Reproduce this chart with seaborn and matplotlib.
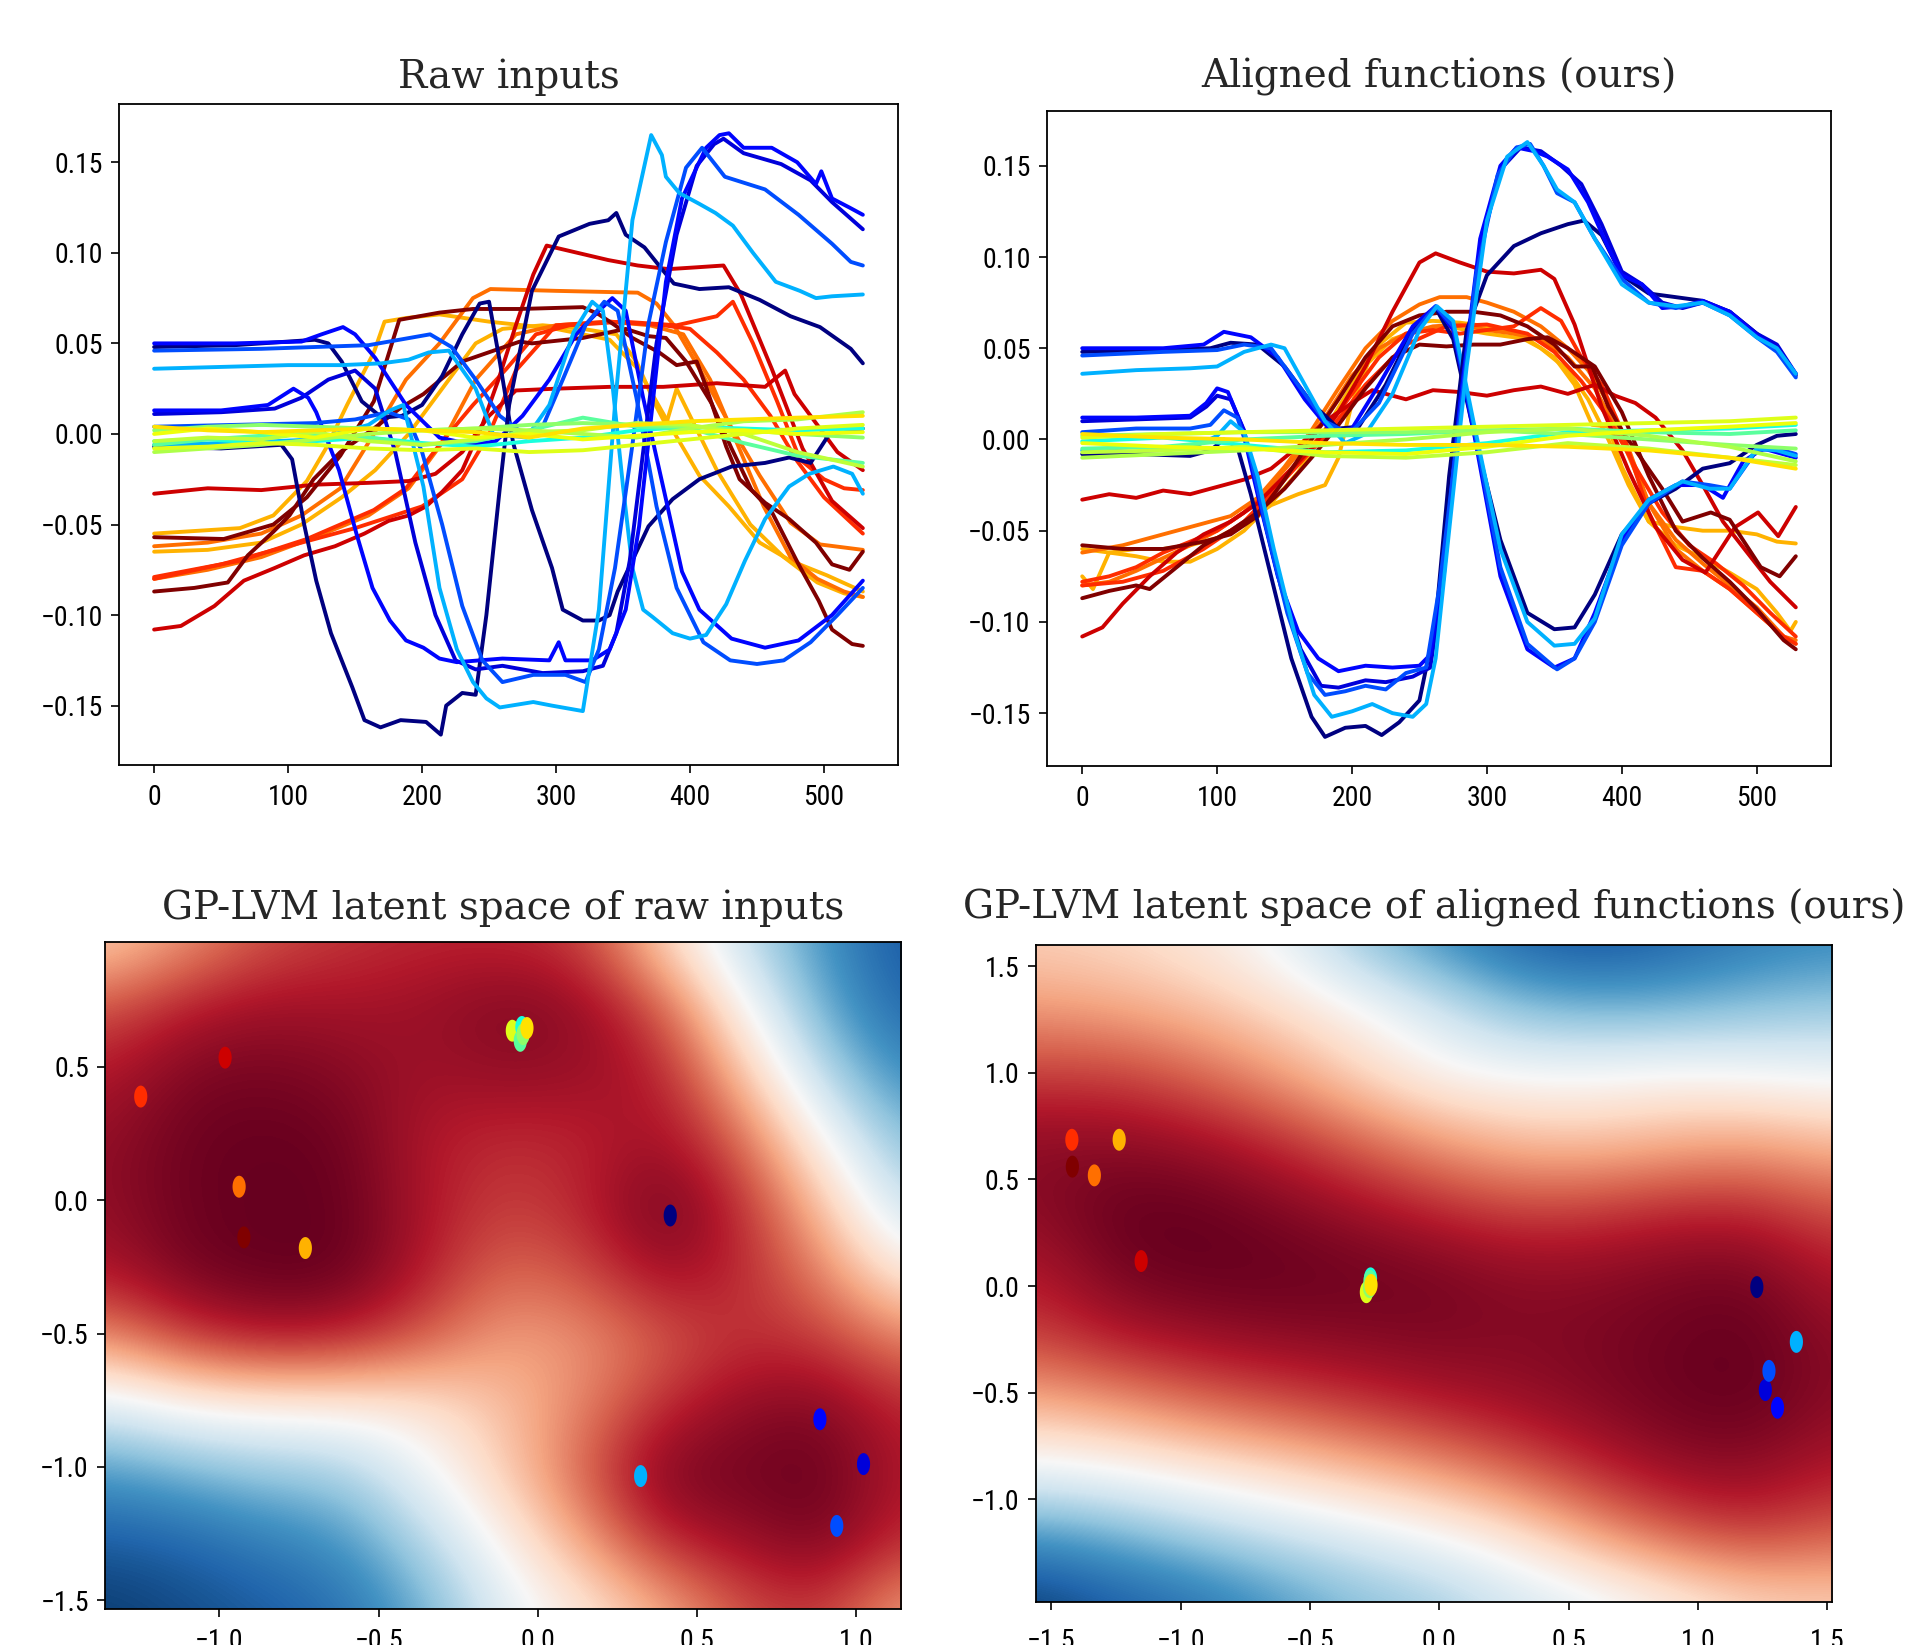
import numpy as np
import pandas as pd
import matplotlib
matplotlib.use("Agg")
import matplotlib.pyplot as plt
import seaborn as sns
from matplotlib import font_manager as fm
from matplotlib.font_manager import FontProperties
from matplotlib.markers import MarkerStyle

# ---------------------------------------------------------------- data
# colour of every sample = position on the jet colormap
C_NAVY, C_DKBLUE, C_BLUE, C_MEDBLUE, C_LIGHT = 0.0, 0.08, 0.13, 0.20, 0.30
C_CYAN, C_AQUA, C_GREEN, C_LGREEN, C_LGREEN2, C_YGREEN, C_YELLOW2, C_YELLOW = 0.38, 0.46, 0.52, 0.56, 0.58, 0.62, 0.64, 0.67
C_OY, C_ORANGE, C_ORED, C_RED, C_MAROON = 0.72, 0.79, 0.86, 0.93, 1.0

# ---------- Raw inputs (top left)
r_g1_navy_x = [0, 60, 100, 120, 130, 140, 155, 170, 185, 200, 215, 230, 243, 250, 258, 268, 282, 297, 305, 320, 332, 340, 346, 369, 387, 407, 431, 456, 474, 490, 504, 529]
r_g1_navy_y = [0.048, 0.049, 0.051, 0.052, 0.050, 0.040, 0.018, 0.009, 0.010, 0.016, 0.032, 0.055, 0.072, 0.073, 0.040, -0.005, -0.042, -0.074, -0.097, -0.103, -0.103, -0.100, -0.087, -0.051, -0.036, -0.025, -0.018, -0.016, -0.013, -0.016, 0.000, 0.003]
r_g1_blue_x = [0, 60, 110, 125, 141, 150, 165, 188, 213, 238, 255, 275, 295, 315, 332, 342, 352, 365, 382, 394, 407, 419, 431, 456, 481, 506, 529]
r_g1_blue_y = [0.050, 0.050, 0.051, 0.055, 0.059, 0.055, 0.042, 0.016, -0.002, -0.006, -0.004, 0.010, 0.030, 0.055, 0.068, 0.075, 0.068, 0.020, -0.036, -0.076, -0.097, -0.105, -0.113, -0.118, -0.114, -0.100, -0.081]
r_g1_med_x = [0, 80, 160, 206, 222, 240, 258, 276, 290, 305, 322, 336, 346, 360, 375, 390, 410, 430, 450, 470, 490, 510, 529]
r_g1_med_y = [0.046, 0.047, 0.049, 0.055, 0.048, 0.030, 0.010, 0.000, 0.004, 0.030, 0.060, 0.073, 0.068, 0.020, -0.040, -0.085, -0.115, -0.125, -0.127, -0.125, -0.115, -0.100, -0.085]
r_g1_light_x = [0, 50, 100, 140, 170, 190, 205, 220, 240, 253, 278, 295, 313, 327, 335, 342, 350, 357, 365, 372, 387, 400, 412, 427, 441, 456, 474, 489, 507, 521, 529]
r_g1_light_y = [0.036, 0.037, 0.038, 0.038, 0.039, 0.041, 0.045, 0.046, 0.025, 0.000, -0.002, 0.016, 0.056, 0.073, 0.068, 0.028, -0.029, -0.074, -0.097, -0.101, -0.110, -0.113, -0.111, -0.094, -0.070, -0.047, -0.029, -0.022, -0.018, -0.022, -0.033]
r_g2_navy_x = [0, 50, 95, 103, 112, 121, 132, 148, 157, 169, 184, 203, 214, 218, 230, 240, 248, 258, 265, 282, 302, 325, 339, 345, 352, 366, 379, 388, 407, 429, 452, 475, 497, 520, 529]
r_g2_navy_y = [-0.007, -0.008, -0.006, -0.014, -0.050, -0.081, -0.110, -0.140, -0.158, -0.162, -0.158, -0.159, -0.166, -0.150, -0.143, -0.144, -0.100, -0.030, 0.016, 0.079, 0.109, 0.116, 0.118, 0.122, 0.110, 0.103, 0.091, 0.083, 0.080, 0.081, 0.074, 0.065, 0.059, 0.047, 0.039]
r_g2_dk_x = [0, 50, 90, 110, 130, 150, 165, 180, 195, 210, 225, 240, 260, 290, 320, 335, 345, 355, 365, 375, 390, 405, 418, 425, 440, 468, 490, 506, 529]
r_g2_dk_y = [0.011, 0.012, 0.014, 0.020, 0.030, 0.035, 0.025, -0.010, -0.060, -0.100, -0.125, -0.130, -0.128, -0.132, -0.131, -0.128, -0.110, -0.070, -0.010, 0.050, 0.110, 0.148, 0.160, 0.163, 0.155, 0.149, 0.140, 0.128, 0.113]
r_g2_blue_x = [0, 50, 85, 104, 115, 121, 138, 151, 163, 176, 188, 201, 213, 226, 260, 295, 302, 307, 327, 340, 352, 362, 372, 382, 394, 412, 422, 429, 440, 461, 480, 494, 498, 506, 519, 529]
r_g2_blue_y = [0.013, 0.013, 0.016, 0.025, 0.020, 0.012, -0.020, -0.055, -0.085, -0.103, -0.114, -0.118, -0.124, -0.126, -0.124, -0.125, -0.115, -0.125, -0.125, -0.119, -0.097, -0.051, 0.016, 0.084, 0.130, 0.158, 0.165, 0.166, 0.158, 0.158, 0.150, 0.138, 0.145, 0.130, 0.125, 0.121]
r_g2_med_x = [0, 60, 120, 150, 175, 190, 200, 215, 230, 245, 260, 283, 307, 322, 332, 344, 357, 369, 382, 397, 409, 426, 456, 481, 506, 520, 529]
r_g2_med_y = [0.004, 0.005, 0.006, 0.008, 0.012, 0.008, -0.010, -0.050, -0.095, -0.125, -0.137, -0.133, -0.133, -0.137, -0.119, -0.074, -0.006, 0.061, 0.106, 0.147, 0.158, 0.142, 0.135, 0.121, 0.105, 0.095, 0.093]
r_g2_light_x = [0, 60, 120, 160, 176, 186, 201, 213, 226, 238, 248, 258, 283, 297, 320, 332, 344, 357, 371, 379, 382, 392, 407, 419, 432, 447, 464, 482, 494, 506, 529]
r_g2_light_y = [-0.006, -0.005, -0.003, 0.005, 0.013, 0.016, -0.029, -0.085, -0.119, -0.137, -0.146, -0.151, -0.148, -0.150, -0.153, -0.097, 0.016, 0.118, 0.165, 0.154, 0.142, 0.133, 0.127, 0.122, 0.115, 0.100, 0.084, 0.079, 0.075, 0.076, 0.077]

r_flat_x = [0, 40, 80, 120, 160, 200, 240, 280, 320, 360, 400, 440, 480, 529]
r_f_cyan = [-0.004, -0.003, -0.005, -0.004, -0.002, -0.005, -0.007, -0.004, -0.002, 0.002, 0.004, 0.003, 0.002, 0.003]
r_f_aqua = [-0.006, -0.003, -0.001, 0.000, -0.002, -0.006, -0.004, 0.002, 0.009, 0.004, 0.003, -0.005, -0.012, -0.016]
r_f_green = [0.002, 0.004, 0.005, 0.004, 0.003, 0.002, 0.003, 0.005, 0.006, 0.005, 0.004, 0.002, 0.000, -0.002]
r_f_lgreen = [-0.010, -0.008, -0.006, -0.003, 0.000, 0.002, 0.003, 0.002, 0.000, -0.002, 0.003, 0.007, 0.008, 0.012]
r_f_lgreen2 = [-0.004, -0.002, -0.003, 0.001, -0.004, -0.006, -0.003, 0.001, 0.002, 0.006, 0.005, 0.000, -0.010, -0.018]
r_f_ygreen = [-0.008, -0.007, -0.005, -0.006, -0.008, -0.009, -0.008, -0.010, -0.009, -0.006, -0.003, 0.000, 0.003, 0.005]
r_f_yellow2 = [0.000, 0.003, 0.001, -0.002, 0.003, 0.002, -0.002, 0.000, -0.003, -0.001, 0.001, 0.002, 0.000, 0.001]
r_f_yellow = [0.004, 0.002, 0.001, 0.002, 0.003, 0.002, 0.001, -0.002, 0.003, 0.005, 0.007, 0.008, 0.009, 0.010]

r_w_redA_x = [0, 20, 45, 67, 90, 112, 135, 157, 175, 190, 203, 215, 230, 245, 257, 270, 283, 293, 316, 339, 361, 384, 405, 425, 438, 461, 484, 506, 529]
r_w_redA_y = [-0.108, -0.106, -0.095, -0.081, -0.074, -0.067, -0.062, -0.055, -0.048, -0.045, -0.040, -0.032, -0.020, 0.005, 0.030, 0.060, 0.088, 0.104, 0.100, 0.096, 0.093, 0.091, 0.092, 0.093, 0.077, 0.036, -0.008, -0.037, -0.052]
r_w_redB_x = [0, 40, 80, 120, 160, 190, 210, 230, 250, 270, 300, 340, 380, 420, 456, 471, 478, 495, 510, 529]
r_w_redB_y = [-0.033, -0.030, -0.031, -0.028, -0.027, -0.026, -0.022, -0.010, 0.010, 0.024, 0.025, 0.026, 0.026, 0.028, 0.026, 0.035, 0.022, 0.005, -0.010, -0.020]
r_w_marA_x = [0, 52, 89, 114, 139, 164, 183, 213, 238, 273, 320, 332, 344, 357, 377, 390, 405, 412, 427, 437, 456, 474, 494, 506, 519, 529]
r_w_marA_y = [-0.057, -0.058, -0.050, -0.035, -0.012, 0.018, 0.063, 0.067, 0.069, 0.069, 0.070, 0.066, 0.060, 0.053, 0.045, 0.038, 0.040, 0.026, -0.007, -0.025, -0.038, -0.047, -0.060, -0.072, -0.075, -0.065]
r_w_marB_x = [0, 30, 55, 70, 89, 101, 119, 139, 164, 185, 201, 230, 273, 282, 320, 352, 369, 382, 397, 416, 431, 446, 461, 481, 496, 506, 521, 529]
r_w_marB_y = [-0.087, -0.085, -0.082, -0.067, -0.054, -0.045, -0.025, -0.010, 0.003, 0.015, 0.022, 0.040, 0.051, 0.050, 0.053, 0.058, 0.054, 0.053, 0.040, 0.017, -0.008, -0.031, -0.043, -0.072, -0.092, -0.108, -0.116, -0.117]
r_w_orA_x = [0, 40, 80, 110, 139, 164, 188, 213, 238, 251, 300, 361, 375, 388, 407, 429, 452, 475, 497, 529]
r_w_orA_y = [-0.062, -0.060, -0.055, -0.045, -0.030, 0.000, 0.030, 0.050, 0.075, 0.080, 0.079, 0.078, 0.072, 0.060, 0.036, 0.006, -0.023, -0.049, -0.061, -0.064]
r_w_orB_x = [0, 40, 80, 120, 160, 190, 215, 240, 270, 300, 340, 370, 395, 415, 435, 455, 475, 495, 515, 529]
r_w_orB_y = [-0.080, -0.075, -0.068, -0.057, -0.045, -0.030, -0.005, 0.030, 0.055, 0.060, 0.062, 0.060, 0.055, 0.030, -0.005, -0.040, -0.068, -0.080, -0.087, -0.090]
r_w_orrA_x = [0, 64, 114, 164, 188, 213, 238, 263, 285, 310, 350, 390, 420, 432, 447, 465, 482, 500, 515, 529]
r_w_orrA_y = [-0.079, -0.070, -0.058, -0.042, -0.030, -0.006, 0.016, 0.036, 0.055, 0.060, 0.062, 0.060, 0.065, 0.073, 0.050, 0.018, -0.014, -0.025, -0.030, -0.031]
r_w_orrB_x = [0, 50, 100, 150, 200, 230, 250, 270, 300, 340, 380, 400, 420, 440, 460, 480, 500, 529]
r_w_orrB_y = [-0.080, -0.072, -0.062, -0.052, -0.040, -0.025, 0.000, 0.035, 0.060, 0.062, 0.060, 0.058, 0.045, 0.030, 0.010, -0.015, -0.035, -0.055]
r_w_oyA_x = [0, 64, 89, 114, 129, 144, 164, 172, 188, 213, 250, 300, 340, 361, 384, 407, 429, 452, 475, 502, 529]
r_w_oyA_y = [-0.055, -0.052, -0.045, -0.026, -0.007, 0.016, 0.045, 0.062, 0.064, 0.066, 0.062, 0.058, 0.052, 0.036, 0.006, -0.023, -0.040, -0.060, -0.070, -0.078, -0.087]
r_w_oyB_x = [0, 40, 80, 110, 140, 165, 190, 215, 240, 260, 290, 320, 345, 360, 375, 382, 390, 400, 420, 445, 470, 495, 515, 529]
r_w_oyB_y = [-0.065, -0.064, -0.060, -0.050, -0.035, -0.020, 0.000, 0.025, 0.050, 0.058, 0.060, 0.058, 0.055, 0.040, 0.015, 0.005, 0.025, 0.010, -0.020, -0.050, -0.068, -0.082, -0.088, -0.090]

# ---------- Aligned functions (top right)
a_g1_navy_x = [0, 60, 95, 110, 130, 150, 170, 190, 205, 225, 245, 262, 275, 290, 310, 330, 350, 365, 380, 400, 420, 440, 460, 480, 500, 515, 529]
a_g1_navy_y = [0.048, 0.049, 0.050, 0.053, 0.052, 0.040, 0.020, 0.006, 0.007, 0.030, 0.060, 0.072, 0.055, 0.005, -0.055, -0.095, -0.104, -0.103, -0.085, -0.052, -0.035, -0.027, -0.016, -0.013, -0.003, 0.002, 0.003]
a_g1_blue_x = [0, 60, 90, 105, 125, 145, 165, 185, 200, 220, 245, 262, 275, 290, 310, 330, 350, 365, 380, 400, 420, 440, 460, 475, 490, 505, 529]
a_g1_blue_y = [0.050, 0.050, 0.052, 0.059, 0.056, 0.045, 0.022, 0.004, 0.006, 0.030, 0.062, 0.073, 0.060, 0.005, -0.075, -0.115, -0.125, -0.120, -0.095, -0.055, -0.033, -0.025, -0.025, -0.032, -0.012, -0.005, -0.010]
a_g1_med_x = [0, 60, 100, 120, 140, 160, 180, 198, 220, 245, 262, 275, 290, 310, 330, 352, 365, 380, 400, 420, 445, 465, 480, 500, 515, 529]
a_g1_med_y = [0.046, 0.048, 0.049, 0.052, 0.050, 0.030, 0.010, 0.003, 0.020, 0.058, 0.073, 0.062, 0.008, -0.070, -0.112, -0.126, -0.120, -0.100, -0.058, -0.035, -0.023, -0.025, -0.027, -0.006, -0.005, -0.008]
a_g1_light_x = [0, 40, 80, 100, 120, 140, 150, 165, 180, 195, 210, 230, 250, 263, 275, 290, 310, 330, 350, 365, 380, 400, 420, 445, 465, 480, 500, 515, 529]
a_g1_light_y = [0.036, 0.038, 0.039, 0.040, 0.048, 0.052, 0.050, 0.030, 0.010, -0.002, 0.003, 0.025, 0.060, 0.073, 0.065, 0.010, -0.060, -0.100, -0.113, -0.112, -0.098, -0.052, -0.033, -0.023, -0.027, -0.027, -0.005, -0.006, -0.009]
a_g2_navy_x = [0, 40, 80, 95, 105, 115, 125, 140, 155, 170, 180, 195, 210, 222, 235, 250, 262, 272, 285, 300, 320, 340, 360, 372, 385, 400, 420, 440, 460, 480, 500, 515, 529]
a_g2_navy_y = [-0.008, -0.008, -0.009, -0.006, 0.000, -0.004, -0.030, -0.075, -0.120, -0.152, -0.163, -0.158, -0.157, -0.162, -0.155, -0.143, -0.100, -0.020, 0.060, 0.090, 0.106, 0.113, 0.118, 0.120, 0.112, 0.090, 0.080, 0.078, 0.076, 0.070, 0.058, 0.050, 0.035]
a_g2_dk_x = [0, 40, 80, 92, 100, 110, 120, 132, 147, 162, 177, 190, 210, 225, 245, 258, 268, 280, 295, 310, 325, 340, 355, 370, 385, 400, 415, 430, 445, 460, 480, 500, 515, 529]
a_g2_dk_y = [0.010, 0.011, 0.012, 0.018, 0.024, 0.022, 0.005, -0.035, -0.080, -0.115, -0.135, -0.136, -0.132, -0.133, -0.130, -0.125, -0.075, 0.015, 0.105, 0.148, 0.160, 0.158, 0.150, 0.140, 0.118, 0.092, 0.085, 0.075, 0.072, 0.075, 0.070, 0.058, 0.052, 0.036]
a_g2_blue_x = [0, 40, 80, 92, 100, 108, 118, 130, 145, 160, 175, 190, 210, 230, 250, 258, 268, 280, 295, 310, 322, 335, 345, 360, 375, 390, 400, 415, 430, 445, 460, 480, 500, 515, 529]
a_g2_blue_y = [0.012, 0.012, 0.013, 0.020, 0.028, 0.026, 0.008, -0.030, -0.075, -0.105, -0.120, -0.127, -0.124, -0.125, -0.124, -0.118, -0.070, 0.020, 0.110, 0.150, 0.160, 0.158, 0.155, 0.148, 0.130, 0.105, 0.090, 0.085, 0.072, 0.073, 0.076, 0.070, 0.057, 0.050, 0.036]
a_g2_med_x = [0, 40, 80, 95, 105, 115, 125, 137, 152, 167, 180, 195, 210, 225, 240, 255, 265, 278, 292, 308, 322, 332, 342, 352, 365, 380, 400, 420, 440, 460, 480, 500, 515, 529]
a_g2_med_y = [0.004, 0.006, 0.006, 0.008, 0.016, 0.012, -0.010, -0.050, -0.095, -0.128, -0.140, -0.138, -0.135, -0.137, -0.128, -0.125, -0.080, 0.000, 0.090, 0.145, 0.160, 0.162, 0.150, 0.135, 0.130, 0.110, 0.088, 0.075, 0.072, 0.075, 0.068, 0.056, 0.048, 0.034]
a_g2_light_x = [0, 40, 80, 100, 110, 120, 130, 142, 157, 172, 185, 200, 215, 230, 245, 255, 262, 272, 285, 300, 315, 330, 342, 352, 365, 380, 400, 420, 440, 460, 480, 500, 515, 529]
a_g2_light_y = [-0.006, -0.004, -0.005, 0.002, 0.010, 0.004, -0.020, -0.060, -0.105, -0.140, -0.152, -0.149, -0.145, -0.150, -0.152, -0.145, -0.120, -0.050, 0.040, 0.120, 0.155, 0.163, 0.150, 0.137, 0.130, 0.110, 0.085, 0.075, 0.073, 0.075, 0.068, 0.056, 0.050, 0.036]

a_flat_x = [0, 60, 120, 180, 240, 300, 360, 420, 480, 529]
a_f_cyan = [-0.001, 0.001, -0.003, -0.007, -0.006, -0.002, 0.004, 0.005, 0.006, 0.008]
a_f_aqua = [-0.005, -0.004, 0.000, 0.002, 0.003, 0.005, 0.006, 0.004, 0.003, 0.005]
a_f_green = [0.002, 0.003, 0.004, 0.004, 0.004, 0.005, 0.003, 0.000, -0.003, -0.005]
a_f_lgreen = [-0.010, -0.008, -0.006, -0.003, 0.000, 0.004, 0.006, 0.002, -0.004, -0.012]
a_f_lgreen2 = [-0.007, -0.006, -0.004, -0.009, -0.010, -0.007, -0.002, -0.005, -0.010, -0.014]
a_f_ygreen = [0.001, 0.003, 0.004, 0.005, 0.006, 0.007, 0.008, 0.009, 0.010, 0.012]
a_f_yellow2 = [-0.002, -0.004, -0.005, -0.007, -0.008, -0.004, 0.002, 0.005, 0.007, 0.009]
a_f_yellow = [0.003, 0.001, 0.000, -0.002, -0.003, -0.003, -0.004, -0.006, -0.010, -0.016]

a_w_redA_x = [0, 15, 30, 50, 70, 90, 110, 130, 150, 170, 190, 210, 230, 250, 262, 280, 300, 320, 340, 350, 365, 385, 405, 425, 445, 462, 484, 501, 516, 529]
a_w_redA_y = [-0.108, -0.103, -0.090, -0.075, -0.062, -0.052, -0.045, -0.035, -0.020, -0.005, 0.015, 0.040, 0.070, 0.097, 0.102, 0.097, 0.092, 0.091, 0.093, 0.088, 0.063, 0.018, -0.017, -0.048, -0.066, -0.073, -0.048, -0.040, -0.053, -0.037]
a_w_redB_x = [0, 20, 40, 60, 80, 100, 120, 140, 160, 180, 200, 215, 240, 260, 280, 300, 320, 340, 360, 380, 395, 410, 425, 445, 460, 475, 493, 510, 529]
a_w_redB_y = [-0.033, -0.030, -0.032, -0.028, -0.030, -0.026, -0.022, -0.016, -0.004, 0.010, 0.020, 0.027, 0.022, 0.027, 0.026, 0.024, 0.027, 0.029, 0.025, 0.030, 0.024, 0.020, 0.012, -0.006, -0.025, -0.045, -0.062, -0.078, -0.092]
a_w_marA_x = [0, 30, 60, 90, 110, 130, 150, 170, 190, 210, 230, 250, 270, 290, 310, 330, 350, 365, 378, 390, 400, 415, 430, 445, 466, 480, 503, 517, 529]
a_w_marA_y = [-0.058, -0.060, -0.060, -0.056, -0.052, -0.042, -0.022, 0.000, 0.022, 0.045, 0.062, 0.068, 0.070, 0.070, 0.068, 0.062, 0.052, 0.040, 0.040, 0.018, 0.005, -0.011, -0.027, -0.045, -0.040, -0.044, -0.070, -0.075, -0.064]
a_w_marB_x = [0, 20, 40, 50, 70, 90, 110, 130, 150, 170, 190, 210, 230, 250, 270, 290, 310, 330, 345, 360, 380, 400, 420, 440, 460, 480, 500, 520, 529]
a_w_marB_y = [-0.087, -0.083, -0.080, -0.082, -0.070, -0.058, -0.050, -0.040, -0.027, -0.010, 0.008, 0.028, 0.045, 0.052, 0.051, 0.052, 0.052, 0.055, 0.056, 0.050, 0.040, 0.015, -0.020, -0.050, -0.065, -0.078, -0.093, -0.110, -0.115]
a_w_orA_x = [0, 30, 60, 90, 110, 130, 150, 170, 190, 210, 230, 250, 265, 285, 300, 320, 340, 360, 375, 390, 405, 420, 440, 460, 480, 500, 520, 529]
a_w_orA_y = [-0.062, -0.058, -0.052, -0.046, -0.042, -0.032, -0.015, 0.005, 0.028, 0.050, 0.065, 0.074, 0.078, 0.078, 0.075, 0.070, 0.062, 0.050, 0.038, 0.020, -0.005, -0.035, -0.055, -0.068, -0.080, -0.092, -0.108, -0.112]
a_w_orB_x = [0, 20, 40, 60, 80, 100, 120, 140, 160, 180, 200, 220, 240, 260, 280, 300, 320, 340, 360, 380, 400, 420, 440, 460, 480, 500, 520, 529]
a_w_orB_y = [-0.080, -0.078, -0.072, -0.065, -0.058, -0.050, -0.040, -0.025, -0.008, 0.012, 0.035, 0.050, 0.058, 0.062, 0.063, 0.060, 0.058, 0.055, 0.045, 0.028, 0.000, -0.035, -0.060, -0.072, -0.082, -0.095, -0.108, -0.110]
a_w_orrA_x = [0, 20, 40, 60, 80, 100, 120, 140, 160, 180, 200, 220, 240, 260, 280, 300, 320, 340, 355, 370, 385, 400, 420, 440, 460, 480, 500, 520, 529]
a_w_orrA_y = [-0.078, -0.075, -0.070, -0.062, -0.056, -0.050, -0.040, -0.028, -0.012, 0.005, 0.025, 0.045, 0.058, 0.060, 0.058, 0.060, 0.062, 0.072, 0.065, 0.045, 0.030, 0.005, -0.040, -0.070, -0.072, -0.082, -0.095, -0.108, -0.112]
a_w_orrB_x = [0, 30, 60, 90, 120, 150, 180, 210, 240, 270, 300, 330, 350, 370, 390, 410, 430, 450, 470, 490, 510, 529]
a_w_orrB_y = [-0.080, -0.078, -0.072, -0.060, -0.045, -0.022, 0.002, 0.030, 0.052, 0.062, 0.063, 0.058, 0.048, 0.032, 0.012, -0.015, -0.040, -0.058, -0.068, -0.080, -0.095, -0.108]
a_w_oyA_x = [0, 8, 20, 40, 60, 80, 100, 120, 140, 160, 180, 190, 200, 212, 230, 250, 270, 300, 330, 350, 365, 378, 390, 400, 420, 440, 460, 480, 500, 515, 529]
a_w_oyA_y = [-0.075, -0.082, -0.062, -0.060, -0.060, -0.058, -0.054, -0.046, -0.036, -0.030, -0.025, -0.010, 0.020, 0.042, 0.055, 0.060, 0.062, 0.058, 0.055, 0.045, 0.030, 0.008, 0.007, -0.015, -0.045, -0.048, -0.050, -0.050, -0.052, -0.056, -0.057]
a_w_oyB_x = [0, 20, 40, 60, 80, 100, 120, 140, 160, 180, 200, 220, 240, 260, 280, 300, 320, 340, 360, 375, 390, 405, 420, 440, 460, 480, 500, 515, 525, 529]
a_w_oyB_y = [-0.060, -0.062, -0.064, -0.067, -0.067, -0.060, -0.050, -0.035, -0.018, 0.005, 0.030, 0.052, 0.064, 0.065, 0.064, 0.062, 0.058, 0.050, 0.038, 0.022, 0.000, -0.025, -0.045, -0.058, -0.065, -0.073, -0.082, -0.095, -0.105, -0.100]

# ---------- GP-LVM latent spaces (bottom)
lat_raw_x = [-0.982, -1.247, -0.938, -0.923, -0.730, -0.080, -0.050, -0.055, -0.046, -0.034, 0.416, 0.323, 0.886, 1.023, 0.939]
lat_raw_y = [0.535, 0.389, 0.051, -0.139, -0.179, 0.636, 0.650, 0.598, 0.623, 0.646, -0.057, -1.034, -0.821, -0.989, -1.221]
lat_al_x = [-1.153, -1.421, -1.334, -1.419, -1.238, -0.282, -0.266, -0.268, -0.270, -0.264, 1.228, 1.381, 1.308, 1.261, 1.275]
lat_al_y = [0.117, 0.686, 0.519, 0.560, 0.686, -0.029, 0.036, 0.024, -0.005, 0.005, -0.005, -0.262, -0.571, -0.488, -0.398]
lat_colors = [C_RED, C_ORED, C_ORANGE, C_MAROON, C_OY, C_YGREEN, C_CYAN, C_AQUA, C_GREEN, C_YELLOW,
              C_NAVY, C_LIGHT, C_BLUE, C_DKBLUE, C_MEDBLUE]

# density fields (1 = dark red, 0.5 = white, 0 = dark blue), rows top -> bottom
raw_field_x = [-1.36, 1.14]
raw_field_y = [-1.533, 0.967]
raw_field = [
    [0.62, 0.72, 0.82, 0.86, 0.88, 0.88, 0.85, 0.62, 0.38, 0.20, 0.07],
    [0.82, 0.90, 0.93, 0.92, 0.93, 0.97, 0.95, 0.82, 0.52, 0.25, 0.10],
    [0.90, 0.97, 0.98, 0.96, 0.92, 0.94, 0.93, 0.90, 0.66, 0.36, 0.18],
    [0.94, 0.99, 1.00, 0.99, 0.90, 0.87, 0.88, 0.93, 0.80, 0.52, 0.28],
    [0.94, 0.99, 1.00, 1.00, 0.91, 0.84, 0.88, 1.00, 0.88, 0.66, 0.38],
    [0.90, 0.98, 1.00, 1.00, 0.90, 0.78, 0.82, 0.93, 0.88, 0.76, 0.55],
    [0.72, 0.84, 0.90, 0.88, 0.80, 0.70, 0.72, 0.80, 0.87, 0.86, 0.76],
    [0.42, 0.50, 0.52, 0.53, 0.56, 0.65, 0.75, 0.88, 0.95, 0.97, 0.88],
    [0.20, 0.25, 0.30, 0.32, 0.47, 0.62, 0.80, 0.98, 0.98, 1.00, 0.90],
    [0.08, 0.10, 0.15, 0.20, 0.35, 0.52, 0.70, 0.88, 0.93, 0.98, 0.87],
    [0.02, 0.05, 0.08, 0.12, 0.25, 0.44, 0.56, 0.68, 0.82, 0.86, 0.70],
]
al_field_x = [-1.561, 1.519]
al_field_y = [-1.48, 1.60]
al_field = [
    [0.62, 0.60, 0.56, 0.48, 0.32, 0.20, 0.10, 0.06, 0.10, 0.15, 0.18],
    [0.72, 0.70, 0.66, 0.60, 0.52, 0.42, 0.30, 0.27, 0.27, 0.30, 0.32],
    [0.85, 0.85, 0.80, 0.72, 0.62, 0.52, 0.50, 0.50, 0.52, 0.50, 0.48],
    [0.95, 0.95, 0.93, 0.88, 0.80, 0.72, 0.66, 0.65, 0.68, 0.70, 0.66],
    [0.95, 1.00, 1.00, 0.97, 0.93, 0.88, 0.84, 0.85, 0.88, 0.88, 0.82],
    [0.90, 0.98, 1.00, 1.00, 0.99, 0.98, 0.95, 0.95, 0.97, 0.98, 0.90],
    [0.84, 0.90, 0.93, 0.95, 0.96, 0.97, 0.96, 0.97, 0.99, 1.00, 0.95],
    [0.68, 0.72, 0.78, 0.82, 0.86, 0.90, 0.93, 0.96, 0.99, 1.00, 0.95],
    [0.47, 0.50, 0.55, 0.60, 0.66, 0.72, 0.80, 0.88, 0.94, 0.95, 0.90],
    [0.20, 0.25, 0.32, 0.38, 0.43, 0.49, 0.57, 0.70, 0.80, 0.85, 0.80],
    [0.02, 0.08, 0.12, 0.20, 0.28, 0.32, 0.40, 0.45, 0.53, 0.60, 0.62],
]

TITLES = ["Raw inputs", "Aligned functions (ours)",
          "GP-LVM latent space of raw inputs", "GP-LVM latent space of aligned functions (ours)"]

# ---------------------------------------------------------------- curve registries
RAW_CURVES = [
    ("oyA", r_w_oyA_x, r_w_oyA_y, C_OY), ("oyB", r_w_oyB_x, r_w_oyB_y, C_OY),
    ("orA", r_w_orA_x, r_w_orA_y, C_ORANGE), ("orB", r_w_orB_x, r_w_orB_y, C_ORANGE),
    ("orrA", r_w_orrA_x, r_w_orrA_y, C_ORED), ("orrB", r_w_orrB_x, r_w_orrB_y, C_ORED),
    ("redA", r_w_redA_x, r_w_redA_y, C_RED), ("redB", r_w_redB_x, r_w_redB_y, C_RED),
    ("marA", r_w_marA_x, r_w_marA_y, C_MAROON), ("marB", r_w_marB_x, r_w_marB_y, C_MAROON),
    ("g1navy", r_g1_navy_x, r_g1_navy_y, C_NAVY), ("g1blue", r_g1_blue_x, r_g1_blue_y, C_BLUE),
    ("g1med", r_g1_med_x, r_g1_med_y, C_MEDBLUE), ("g1light", r_g1_light_x, r_g1_light_y, C_LIGHT),
    ("g2navy", r_g2_navy_x, r_g2_navy_y, C_NAVY), ("g2dk", r_g2_dk_x, r_g2_dk_y, C_DKBLUE),
    ("g2blue", r_g2_blue_x, r_g2_blue_y, C_BLUE), ("g2med", r_g2_med_x, r_g2_med_y, C_MEDBLUE),
    ("g2light", r_g2_light_x, r_g2_light_y, C_LIGHT),
    ("fcyan", r_flat_x, r_f_cyan, C_CYAN), ("faqua", r_flat_x, r_f_aqua, C_AQUA),
    ("fgreen", r_flat_x, r_f_green, C_GREEN), ("flgreen", r_flat_x, r_f_lgreen, C_LGREEN),
    ("flgreen2", r_flat_x, r_f_lgreen2, C_LGREEN2), ("fygreen", r_flat_x, r_f_ygreen, C_YGREEN),
    ("fyellow2", r_flat_x, r_f_yellow2, C_YELLOW2), ("fyellow", r_flat_x, r_f_yellow, C_YELLOW),
]
AL_CURVES = [
    ("oyA", a_w_oyA_x, a_w_oyA_y, C_OY), ("oyB", a_w_oyB_x, a_w_oyB_y, C_OY),
    ("orA", a_w_orA_x, a_w_orA_y, C_ORANGE), ("orB", a_w_orB_x, a_w_orB_y, C_ORANGE),
    ("orrA", a_w_orrA_x, a_w_orrA_y, C_ORED), ("orrB", a_w_orrB_x, a_w_orrB_y, C_ORED),
    ("redA", a_w_redA_x, a_w_redA_y, C_RED), ("redB", a_w_redB_x, a_w_redB_y, C_RED),
    ("marA", a_w_marA_x, a_w_marA_y, C_MAROON), ("marB", a_w_marB_x, a_w_marB_y, C_MAROON),
    ("g1navy", a_g1_navy_x, a_g1_navy_y, C_NAVY), ("g1blue", a_g1_blue_x, a_g1_blue_y, C_BLUE),
    ("g1med", a_g1_med_x, a_g1_med_y, C_MEDBLUE), ("g1light", a_g1_light_x, a_g1_light_y, C_LIGHT),
    ("g2navy", a_g2_navy_x, a_g2_navy_y, C_NAVY), ("g2dk", a_g2_dk_x, a_g2_dk_y, C_DKBLUE),
    ("g2blue", a_g2_blue_x, a_g2_blue_y, C_BLUE), ("g2med", a_g2_med_x, a_g2_med_y, C_MEDBLUE),
    ("g2light", a_g2_light_x, a_g2_light_y, C_LIGHT),
    ("fcyan", a_flat_x, a_f_cyan, C_CYAN), ("faqua", a_flat_x, a_f_aqua, C_AQUA),
    ("fgreen", a_flat_x, a_f_green, C_GREEN), ("flgreen", a_flat_x, a_f_lgreen, C_LGREEN),
    ("flgreen2", a_flat_x, a_f_lgreen2, C_LGREEN2), ("fygreen", a_flat_x, a_f_ygreen, C_YGREEN),
    ("fyellow2", a_flat_x, a_f_yellow2, C_YELLOW2), ("fyellow", a_flat_x, a_f_yellow, C_YELLOW),
]

# ---------------------------------------------------------------- style
sns.set_style("ticks")
plt.rcParams.update({
    "axes.edgecolor": "black", "axes.linewidth": 1.3,
    "xtick.color": "black", "ytick.color": "black",
    "xtick.major.size": 6, "ytick.major.size": 6,
    "xtick.major.width": 1.2, "ytick.major.width": 1.2,
    "xtick.major.pad": 7.5, "ytick.major.pad": 5.5,
    "axes.unicode_minus": True,
})

_entries = fm.fontManager.ttflist


def _pick_tick_font():
    prefs = [("Liberation Sans Narrow", None, 20), ("Roboto Condensed", None, 20),
             ("Open Sans Condensed", None, 19), ("Noto Sans", "condensed", 19),
             ("Open Sans", "condensed", 19), ("Roboto", "condensed", 19),
             ("DejaVu Sans", "condensed", 18)]
    for fam, stretch, size in prefs:
        for f in _entries:
            if f.name != fam:
                continue
            if stretch is None:
                return FontProperties(family=fam, size=size)
            if "condensed" in str(f.stretch) or "narrow" in str(f.fname).lower() \
                    or "condensed" in str(f.fname).lower():
                return FontProperties(family=fam, stretch="condensed", size=size)
    return FontProperties(family="DejaVu Sans", size=16.5)


TICK_FONT = _pick_tick_font()
TITLE_FONT = FontProperties(family="DejaVu Serif", size=28)

jet = matplotlib.colormaps["jet"]

fig = plt.figure(figsize=(19.08, 16.45), dpi=100)
ax_tl = fig.add_axes([0.0622, 0.5347, 0.4086, 0.4019])
ax_tr = fig.add_axes([0.5485, 0.5343, 0.4114, 0.3982])
ax_bl = fig.add_axes([0.0549, 0.0218, 0.4172, 0.4053])
ax_br = fig.add_axes([0.5428, 0.0264, 0.4174, 0.3992])


def draw_lines(ax, curves):
    frames = [pd.DataFrame({"x": xs, "y": ys, "curve": name}) for name, xs, ys, c in curves]
    df = pd.concat(frames, ignore_index=True)
    pal = {name: jet(c) for name, xs, ys, c in curves}
    order = [name for name, xs, ys, c in curves]
    sns.lineplot(data=df, x="x", y="y", hue="curve", hue_order=order, palette=pal,
                 estimator=None, sort=False, legend=False, linewidth=2.8, ax=ax)
    ax.set_xlabel("")
    ax.set_ylabel("")
    ax.set_xlim(-26.45, 555.45)
    ax.set_xticks([0, 100, 200, 300, 400, 500])
    ax.set_yticks([-0.15, -0.10, -0.05, 0.0, 0.05, 0.10, 0.15])


draw_lines(ax_tl, RAW_CURVES)
ax_tl.set_ylim(-0.183, 0.182)
draw_lines(ax_tr, AL_CURVES)
ax_tr.set_ylim(-0.179, 0.180)

ellipse = MarkerStyle(list(zip(0.6 * np.cos(np.linspace(0, 2 * np.pi, 48)),
                               np.sin(np.linspace(0, 2 * np.pi, 48)))))


def draw_latent(ax, field, fx, fy, px, py, xticks, yticks):
    arr = np.array(field)
    nr, nc = arr.shape
    dx = (fx[1] - fx[0]) / (nc - 1)
    dy = (fy[1] - fy[0]) / (nr - 1)
    ax.imshow(arr, cmap="RdBu_r", vmin=0, vmax=1, origin="upper", aspect="auto",
              interpolation="bicubic",
              extent=[fx[0] - dx / 2, fx[1] + dx / 2, fy[0] - dy / 2, fy[1] + dy / 2], zorder=0)
    labels = [f"p{i}" for i in range(len(px))]
    pal = {lab: jet(c) for lab, c in zip(labels, lat_colors)}
    sns.scatterplot(x=px, y=py, hue=labels, hue_order=labels, palette=pal, marker=ellipse,
                    s=250, linewidth=0, legend=False, ax=ax, zorder=3)
    ax.set_xlim(fx[0], fx[1])
    ax.set_ylim(fy[0], fy[1])
    ax.set_xticks(xticks)
    ax.set_yticks(yticks)


draw_latent(ax_bl, raw_field, raw_field_x, raw_field_y, lat_raw_x, lat_raw_y,
            [-1.0, -0.5, 0.0, 0.5, 1.0], [-1.5, -1.0, -0.5, 0.0, 0.5])
draw_latent(ax_br, al_field, al_field_x, al_field_y, lat_al_x, lat_al_y,
            [-1.5, -1.0, -0.5, 0.0, 0.5, 1.0, 1.5], [-1.0, -0.5, 0.0, 0.5, 1.0, 1.5])
ax_br.tick_params(axis="x", pad=13)

for ax, title, pad in zip([ax_tl, ax_tr, ax_bl, ax_br], TITLES, [12, 17, 17, 19]):
    ax.set_title(title, fontproperties=TITLE_FONT, pad=pad)
    for spine in ax.spines.values():
        spine.set_visible(True)
        spine.set_linewidth(1.3)
    for lab in ax.get_xticklabels() + ax.get_yticklabels():
        lab.set_fontproperties(TICK_FONT)

fig.savefig("out.png", dpi=100)
